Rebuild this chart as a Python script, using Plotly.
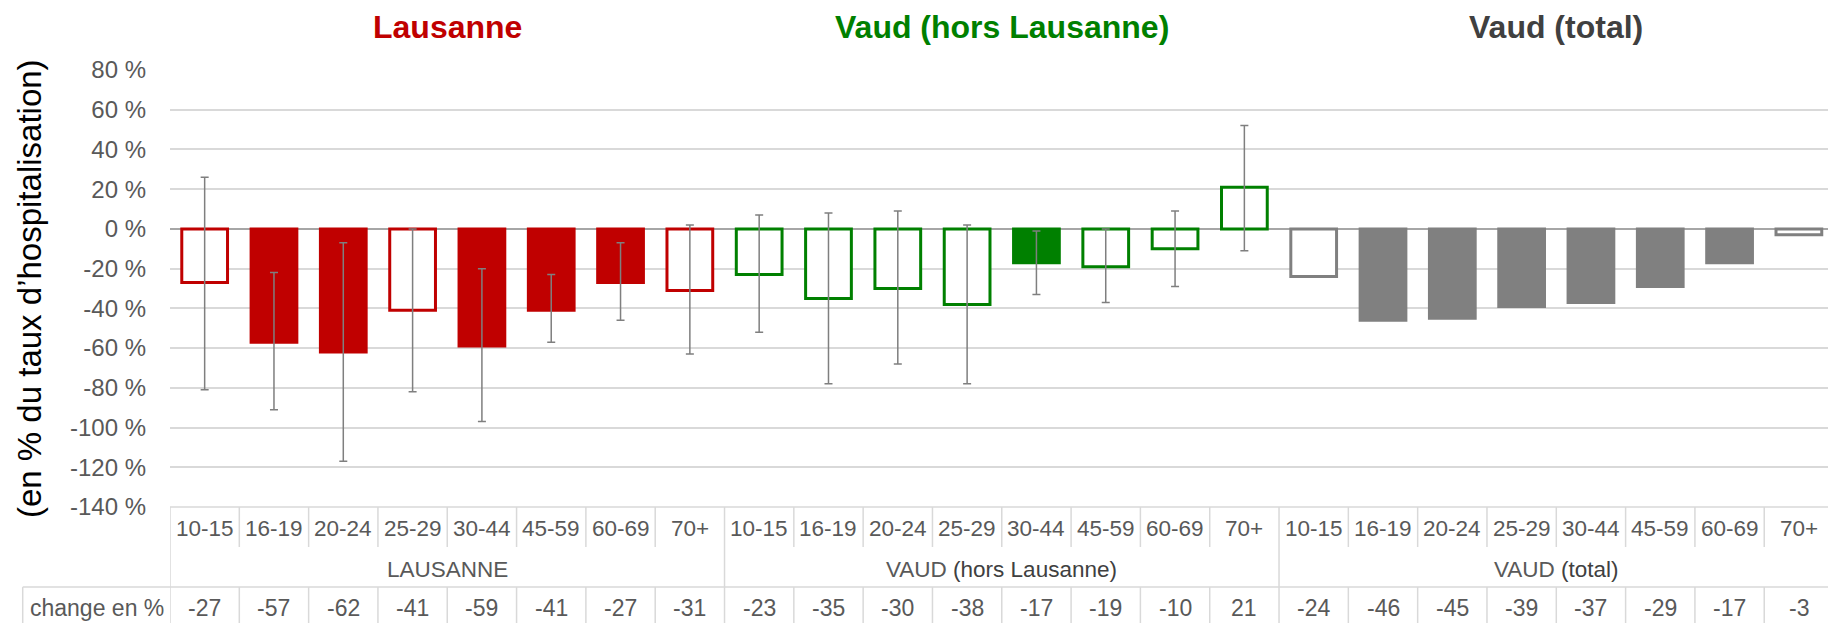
import plotly.graph_objects as go

# ---------------- data ----------------
ages = ["10-15", "16-19", "20-24", "25-29", "30-44", "45-59", "60-69", "70+"]
group_titles = ["Lausanne", "Vaud (hors Lausanne)", "Vaud (total)"]
group_labels = ["LAUSANNE", "VAUD", "VAUD"]
group_sub = ["", "(hors Lausanne)", "(total)"]

laus_vals = [-27, -57, -62, -41, -59, -41, -27, -31]
laus_hi = [26, -22, -7, 0, -20, -23, -7, 2]
laus_lo = [-81, -91, -117, -82, -97, -57, -46, -63]
laus_sig = [False, True, True, False, True, True, True, False]

vaud_vals = [-23, -35, -30, -38, -17, -19, -10, 21]
vaud_hi = [7, 8, 9, 2, -1, 0, 9, 52]
vaud_lo = [-52, -78, -68, -78, -33, -37, -29, -11]
vaud_sig = [False, False, False, False, True, False, False, False]

tot_vals = [-24, -46, -45, -39, -37, -29, -17, -3]
tot_sig = [False, True, True, True, True, True, True, False]

y_ticks = [80, 60, 40, 20, 0, -20, -40, -60, -80, -100, -120, -140]

# ---------------- styles ----------------
RED, GREEN, GRAY = "#C00000", "#008000", "#808080"
TITLE_COLORS = [RED, GREEN, "#404040"]
TXT = "#595959"
FONT = "Liberation Sans, Arial, sans-serif"
LINE = "#d9d9d9"
W, H = 1828, 623
ML, MT, MB = 170, 70, 116.3
BAR_W = 0.66

n = len(ages)
fig = go.Figure()


def add_group(idx, vals, sig, color, hi=None, lo=None):
    xs = [idx * n + i for i in range(n)]
    fills = [color if s else "white" for s in sig]
    kw = {}
    if hi is not None:
        kw["error_y"] = dict(
            type="data", symmetric=False,
            array=[h - v for h, v in zip(hi, vals)],
            arrayminus=[v - l for l, v in zip(lo, vals)],
            color="#7f7f7f", thickness=1.5, width=4,
        )
    fig.add_trace(go.Bar(
        x=xs, y=vals, width=BAR_W,
        marker=dict(color=fills, line=dict(color=color, width=3)),
        showlegend=False, **kw,
    ))


add_group(0, laus_vals, laus_sig, RED, laus_hi, laus_lo)
add_group(1, vaud_vals, vaud_sig, GREEN, vaud_hi, vaud_lo)
add_group(2, tot_vals, tot_sig, GRAY)

plot_h = H - MT - MB
plot_w = W - ML


def py(px):  # pixel y -> paper y
    return (H - MB - px) / plot_h


def pxp(px):  # pixel x -> paper x
    return (px - ML) / plot_w


ncat = 3 * n
shapes = []
lc = dict(color=LINE, width=1.5)
r1, r2, bot = py(546.7), py(586.7), py(625)
shapes.append(dict(type="line", xref="paper", yref="paper", x0=0, x1=1, y0=0, y1=0, line=lc))
shapes.append(dict(type="line", xref="paper", yref="paper", x0=pxp(22.7), x1=1, y0=r2, y1=r2, line=lc))
shapes.append(dict(type="line", xref="paper", yref="paper", x0=pxp(22.7), x1=pxp(22.7), y0=r2, y1=bot, line=lc))
for k in range(ncat):
    xb = k - 0.5
    if k % n == 0:
        shapes.append(dict(type="line", xref="x", yref="paper", x0=xb, x1=xb, y0=0, y1=bot, line=lc))
    else:
        shapes.append(dict(type="line", xref="x", yref="paper", x0=xb, x1=xb, y0=0, y1=r1, line=lc))
        shapes.append(dict(type="line", xref="x", yref="paper", x0=xb, x1=xb, y0=r2, y1=bot, line=lc))

annotations = []
all_changes = laus_vals + vaud_vals + tot_vals
for g in range(3):
    for i, a in enumerate(ages):
        k = g * n + i
        annotations.append(dict(x=k, y=py(528.3), xref="x", yref="paper", text=a, showarrow=False,
                                font=dict(family=FONT, size=22.5, color=TXT), xanchor="center", yanchor="middle"))
        annotations.append(dict(x=k, y=py(607.4), xref="x", yref="paper", text=str(all_changes[k]), showarrow=False,
                                font=dict(family=FONT, size=23, color=TXT), xanchor="center", yanchor="middle"))
    lbl = group_labels[g]
    if group_sub[g]:
        lbl += " <span style='color:#404040'>" + group_sub[g] + "</span>"
    annotations.append(dict(x=g * n + (n - 1) / 2, y=py(569), xref="x", yref="paper", text=lbl, showarrow=False,
                            font=dict(family=FONT, size=22.5, color=TXT), xanchor="center", yanchor="middle"))
    annotations.append(dict(x=g * n + (n - 1) / 2, y=py(27), xref="x", yref="paper",
                            text="<b>" + group_titles[g] + "</b>", showarrow=False,
                            font=dict(family=FONT, size=32, color=TITLE_COLORS[g]),
                            xanchor="center", yanchor="middle"))

annotations.append(dict(x=pxp(97), y=py(607.4), xref="paper", yref="paper", text="change en %", showarrow=False,
                        font=dict(family=FONT, size=23, color=TXT), xanchor="center", yanchor="middle"))
annotations.append(dict(x=pxp(29.5), y=0.5, xref="paper", yref="paper",
                        text="(en % du taux d\u2019hospitalisation)", showarrow=False, textangle=-90,
                        font=dict(family=FONT, size=33, color="#000000"), xanchor="center", yanchor="middle"))

fig.update_layout(
    width=W, height=H,
    margin=dict(l=ML, r=0, t=MT, b=MB, pad=0),
    paper_bgcolor="white", plot_bgcolor="white",
    barmode="overlay",
    showlegend=False,
    xaxis=dict(range=[-0.5, ncat - 0.5 - 0.08], showticklabels=False, showgrid=False,
               zeroline=False, showline=False, ticks=""),
    yaxis=dict(range=[-140, 80], tickvals=y_ticks, ticktext=[f"{v} %" for v in y_ticks],
               tickfont=dict(family=FONT, size=24, color=TXT),
               showgrid=True, gridcolor=LINE, gridwidth=1.5,
               zeroline=True, zerolinecolor="#a6a6a6", zerolinewidth=2,
               showline=False, ticks="", ticklabelstandoff=23),
    shapes=shapes,
    annotations=annotations,
)

fig.write_html("out.html", config={"displayModeBar": False},
               post_script="document.body.style.margin='0';document.body.style.overflow='hidden';")
